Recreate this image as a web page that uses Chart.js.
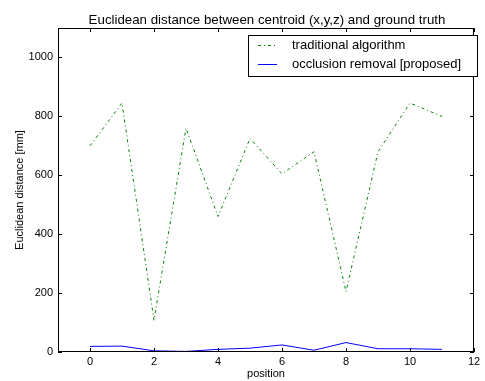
<!DOCTYPE html>
<html>
<head>
<meta charset="utf-8">
<script src="https://cdn.jsdelivr.net/npm/chart.js@4.4.1/dist/chart.umd.min.js"></script>
<style>
  html, body { margin: 0; padding: 0; background: #fff; }
  #wrap { width: 485px; height: 381px; }
</style>
</head>
<body>
<div id="wrap"><canvas id="c" width="485" height="381"></canvas></div>
<script>
// positions 0..11
const positions = [0, 1, 2, 3, 4, 5, 6, 7, 8, 9, 10, 11];
const traditional = [700, 845, 108, 760, 460, 725, 605, 680, 205, 680, 845, 800];
const proposed = [19, 20, 4, 2, 9, 13, 24, 6, 32, 11, 11, 9];
const xTicks = [0, 2, 4, 6, 8, 10, 12];
const yTicks = [0, 200, 400, 600, 800, 1000];

const FONT = '"Liberation Sans", Arial, sans-serif';

// matplotlib-style inward ticks, frame, title and legend
const mplDecor = {
    id: 'mplDecor',
    afterDraw(chart) {
        const ctx = chart.ctx;
        const a = chart.chartArea;
        const xs = chart.scales.x, ys = chart.scales.y;
        ctx.save();
        ctx.strokeStyle = '#000';
        ctx.lineWidth = 1;
        ctx.strokeRect(a.left + 0.5, a.top + 0.5, a.right - a.left - 1, a.bottom - a.top - 1);
        ctx.beginPath();
        xTicks.forEach(v => {
            const px = Math.round(xs.getPixelForValue(v)) + 0.5;
            ctx.moveTo(px, a.bottom); ctx.lineTo(px, a.bottom - 4);
            ctx.moveTo(px, a.top); ctx.lineTo(px, a.top + 4);
        });
        yTicks.forEach(v => {
            const py = Math.round(ys.getPixelForValue(v)) + 0.5;
            ctx.moveTo(a.left, py); ctx.lineTo(a.left + 4, py);
            ctx.moveTo(a.right, py); ctx.lineTo(a.right - 4, py);
        });
        ctx.stroke();

        // title
        ctx.fillStyle = '#000';
        ctx.font = '13.3px ' + FONT;
        ctx.textAlign = 'center';
        ctx.textBaseline = 'bottom';
        ctx.fillText('Euclidean distance between centroid (x,y,z) and ground truth', (a.left + a.right) / 2 + 1, a.top - 1);

        // legend
        const lx = 248, ly = 35, lw = 229, lh = 41;
        ctx.fillStyle = '#fff';
        ctx.fillRect(lx, ly, lw, lh);
        ctx.strokeStyle = '#000';
        ctx.strokeRect(lx + 0.5, ly + 0.5, lw, lh);
        ctx.font = '13px ' + FONT;
        ctx.textAlign = 'left';
        ctx.textBaseline = 'middle';
        chart.data.datasets.forEach((ds, i) => {
            const yy = ly + 10 + i * 19;
            ctx.beginPath();
            ctx.strokeStyle = ds.borderColor;
            ctx.lineWidth = 1;
            ctx.setLineDash(ds.borderDash || []);
            ctx.moveTo(258, yy + 0.5);
            ctx.lineTo(277, yy + 0.5);
            ctx.stroke();
            ctx.setLineDash([]);
            ctx.fillStyle = '#000';
            ctx.fillText(ds.label, 292, yy);
        });
        ctx.restore();
    }
};

new Chart(document.getElementById('c'), {
    type: 'line',
    data: {
        datasets: [{
            label: 'traditional algorithm',
            data: positions.map((p, i) => ({ x: p, y: traditional[i] })),
            borderColor: '#008000',
            borderWidth: 1,
            borderDash: [3, 3, 1, 3],
            pointRadius: 0,
            tension: 0,
            fill: false
        }, {
            label: 'occlusion removal [proposed]',
            data: positions.map((p, i) => ({ x: p, y: proposed[i] })),
            borderColor: '#0000ff',
            borderWidth: 1,
            pointRadius: 0,
            tension: 0,
            fill: false
        }]
    },
    options: {
        responsive: false,
        animation: false,
        layout: { padding: { top: 28, right: 11, left: 0, bottom: 0 } },
        plugins: {
            legend: { display: false },
            tooltip: { enabled: false }
        },
        scales: {
            x: {
                type: 'linear',
                min: -1,
                max: 12,
                afterBuildTicks: s => { s.ticks = xTicks.map(v => ({ value: v })); },
                afterFit: s => { s.height = 29; },
                grid: { display: false, drawTicks: false },
                border: { display: false },
                ticks: { color: '#000', font: { family: FONT, size: 11 }, padding: 3, maxRotation: 0, callback: v => String(v) },
                title: { display: true, text: 'position', color: '#000', font: { family: FONT, size: 11 }, padding: 0 }
            },
            y: {
                type: 'linear',
                min: 0,
                max: 1100,
                afterBuildTicks: s => { s.ticks = yTicks.map(v => ({ value: v })); },
                afterFit: s => { s.width = 58; },
                grid: { display: false, drawTicks: false },
                border: { display: false },
                ticks: { color: '#000', font: { family: FONT, size: 11 }, padding: 5, callback: v => String(v) },
                title: { display: true, text: 'Euclidean distance [mm]', color: '#000', font: { family: FONT, size: 11 }, padding: { top: 13, bottom: 0 } }
            }
        }
    },
    plugins: [mplDecor]
});
</script>
</body>
</html>
